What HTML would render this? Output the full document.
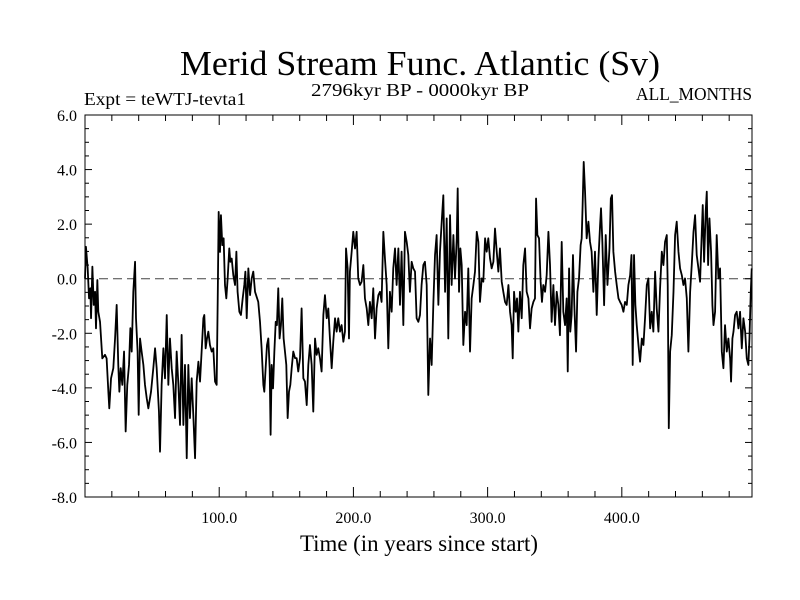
<!DOCTYPE html>
<html><head><meta charset="utf-8"><style>
html,body{margin:0;padding:0;background:#fff}
svg{display:block;font-family:"Liberation Serif",serif}
</style></head><body>
<svg id="chart" width="800" height="600" viewBox="0 0 800 600">
<rect width="800" height="600" fill="#fff"/>
<text x="180" y="75" font-size="35" textLength="480" lengthAdjust="spacingAndGlyphs">Merid Stream Func. Atlantic (Sv)</text>
<text x="311" y="96" font-size="18" textLength="218" lengthAdjust="spacingAndGlyphs">2796kyr BP - 0000kyr BP</text>
<text x="84" y="105" font-size="18" textLength="162" lengthAdjust="spacingAndGlyphs">Expt = teWTJ-tevta1</text>
<text x="636" y="100" font-size="18" textLength="116" lengthAdjust="spacingAndGlyphs">ALL_MONTHS</text>
<text x="300" y="551" font-size="23" textLength="238" lengthAdjust="spacingAndGlyphs">Time (in years since start)</text>
<g id="axes"></g>
<g id="plot"></g>
</svg>
<script>
const years = [0,0.7,2.0,3.0,4.0,4.5,5.5,6.5,7.5,8.2,9.2,9.9,11.2,12.9,14.9,16.1,17.4,18.1,19.4,21.1,22.4,23.6,24.8,25.6,26.6,27.8,29.1,30.3,31.5,32.8,33.8,34.8,36.0,37.3,38.0,39.2,40.0,41.0,42.2,43.5,44.7,46.0,47.2,49.2,50.9,52.2,53.4,55.1,55.9,57.1,58.4,59.6,60.9,62.1,63.3,64.6,65.8,67.1,68.3,69.6,70.8,72.0,73.3,74.5,75.8,77.0,78.2,79.5,80.7,82.0,83.2,84.5,85.7,86.9,88.2,88.9,89.9,90.9,91.9,93.1,94.4,95.6,96.9,98.1,98.9,99.6,100.6,101.3,102.3,103.3,104.3,105.3,106.3,107.5,108.3,109.3,110.5,111.8,112.8,113.7,115.0,116.2,117.5,118.7,119.5,120.5,121.7,123.0,124.2,125.4,126.7,129.1,130.4,131.6,132.9,133.6,134.6,135.6,136.6,137.6,138.3,139.1,140.1,141.1,142.1,143.0,144.0,145.0,146.0,147.0,148.0,149.0,150.0,151.0,152.0,153.0,154.0,155.2,156.5,157.7,158.9,160.2,161.4,162.7,163.9,165.2,166.4,167.6,168.9,170.1,171.4,172.6,173.8,175.1,176.3,177.6,178.8,180.1,181.3,182.5,183.8,185.0,186.3,187.5,188.7,190.0,191.2,192.5,193.7,194.5,195.7,196.7,197.4,198.7,199.9,201.2,202.4,203.6,204.9,206.1,207.4,208.6,209.9,211.1,212.3,213.6,214.8,216.1,217.3,218.6,219.8,221.0,222.3,223.5,224.8,226.0,227.2,228.5,229.7,231.0,232.2,233.5,234.7,235.9,237.2,238.4,239.7,240.9,242.1,243.4,244.6,245.9,247.1,248.4,249.6,250.8,252.1,253.3,254.6,255.8,257.1,258.3,259.6,260.8,262.0,263.3,264.5,265.8,267.0,268.3,269.5,270.7,272.0,273.2,274.5,275.7,277.0,277.7,278.7,279.7,280.7,281.9,283.2,284.4,285.6,286.9,288.1,289.4,290.6,291.9,293.1,294.3,295.6,296.8,298.1,299.3,300.5,301.8,303.0,304.3,305.5,306.8,308.0,309.2,310.5,311.7,313.0,314.2,315.5,316.7,317.9,318.7,319.7,320.9,321.9,322.9,324.1,325.4,326.6,327.9,329.1,330.4,331.6,332.8,334.1,335.3,336.1,337.1,338.3,339.5,340.5,341.5,342.8,344.0,345.3,346.5,347.7,349.0,350.2,351.5,352.7,353.9,355.2,356.4,357.7,358.9,359.7,360.7,361.6,362.6,363.6,364.6,365.9,366.9,368.1,369.3,370.1,370.8,371.6,372.6,373.8,375.1,376.3,377.5,378.8,380.0,381.3,382.6,383.8,384.5,385.5,386.8,388.0,389.3,390.8,391.8,392.7,393.7,395.0,396.2,397.5,398.7,399.9,401.2,402.4,403.7,404.9,406.2,407.2,408.1,409.1,410.1,411.1,412.4,413.6,414.9,416.1,417.3,418.6,419.8,421.1,422.3,423.5,424.8,426.0,427.3,428.5,429.8,431.0,432.2,433.5,434.2,435.0,436.0,437.2,438.5,439.7,440.9,442.2,443.4,444.7,445.9,447.1,448.4,449.6,450.9,452.1,453.4,454.6,455.8,457.1,458.3,459.6,460.3,461.3,462.5,463.3,464.3,465.3,466.5,467.5,468.3,469.5,470.7,472.0,473.2,474.5,475.7,476.9,478.2,479.4,480.7,481.4,482.4,483.2,484.4,485.6,486.9,488.1,489.4,490.6,491.9,493.1,494.3,495.1,496.1,496.8];
const values = [0.0,1.17,0.38,-0.72,-0.35,-1.45,0.44,-0.96,-0.48,-1.82,-0.05,-1.21,-1.58,-2.92,-2.79,-2.92,-4.14,-4.75,-3.65,-3.28,-2.19,-0.96,-3.16,-4.14,-3.28,-3.89,-2.67,-5.6,-3.89,-3.16,-1.81,-2.67,-0.48,0.62,-1.45,-2.67,-4.99,-2.19,-2.67,-3.16,-3.89,-4.38,-4.75,-4.14,-3.28,-2.55,-3.28,-4.87,-6.34,-3.89,-2.55,-3.65,-1.33,-3.89,-2.19,-3.28,-3.89,-5.11,-2.67,-3.89,-5.36,-2.06,-5.36,-3.16,-6.58,-3.16,-5.11,-3.65,-4.99,-6.58,-3.77,-3.04,-3.77,-2.67,-1.45,-1.33,-2.55,-2.19,-1.94,-2.43,-2.67,-2.55,-3.77,-3.89,-0.72,2.45,0.98,2.33,1.23,1.48,-0.23,-0.72,0.01,1.11,0.62,0.74,0.13,-0.23,0.99,-0.48,-1.21,-1.33,-0.72,-0.23,0.26,-1.45,0.38,-0.60,0.01,0.26,-0.48,-0.85,-1.58,-2.55,-3.89,-4.14,-3.28,-2.43,-2.19,-3.28,-5.72,-3.16,-4.02,-2.67,-1.58,-1.70,-0.35,-2.19,-1.70,-0.72,-2.19,-2.67,-3.16,-5.11,-4.14,-3.89,-3.28,-2.67,-2.91,-2.91,-3.40,-2.91,-1.09,-3.65,-3.77,-4.63,-3.16,-2.43,-3.16,-4.87,-2.19,-2.79,-2.55,-2.92,-3.40,-1.33,-0.60,-1.45,-1.09,-2.19,-3.28,-2.31,-1.45,-1.94,-1.45,-1.94,-1.70,-2.31,-1.94,1.11,0.38,-2.19,0.26,0.99,1.72,1.11,1.72,0.01,-0.23,-0.11,0.50,-0.72,-1.09,-1.70,-0.85,-1.45,-0.35,-2.19,-1.09,-0.60,-0.48,-0.85,1.72,0.74,-0.23,-2.55,-0.48,-1.21,0.38,1.11,-0.23,1.11,-0.96,0.99,-1.70,1.72,1.35,0.87,-0.48,0.62,0.38,0.26,-1.45,-1.58,-1.33,-0.23,0.50,0.62,-0.23,-4.26,-2.19,-3.16,-0.85,0.87,1.60,-0.96,0.99,2.09,3.06,-0.48,2.21,-2.19,2.33,-0.23,1.60,0.01,1.48,3.31,-0.48,1.11,0.50,-2.43,-1.21,-1.70,0.38,-2.67,-0.72,-0.23,0.26,1.72,1.35,-0.85,0.01,-0.11,1.48,0.99,1.48,0.74,0.38,0.62,1.84,0.99,0.26,1.11,-0.11,-0.48,-0.85,-0.96,-0.23,-1.21,-1.70,-2.92,-0.48,-1.21,-0.72,-1.94,-0.48,-1.45,0.50,1.11,-0.48,-0.72,-1.82,-1.09,-0.85,-0.72,2.94,1.60,1.48,-0.11,-0.85,-0.23,-0.48,0.13,1.72,0.50,-1.58,-0.23,-1.70,-0.48,-0.96,-2.07,1.35,-1.21,-1.70,-0.72,-3.40,0.38,-1.94,-1.33,0.87,-0.96,-2.67,-0.48,0.01,1.23,1.48,2.70,4.28,3.19,1.48,2.09,1.35,0.99,-0.48,0.99,-1.33,0.74,1.96,2.58,1.35,-0.97,1.60,-0.23,1.11,2.94,3.06,0.99,0.26,-0.23,-0.72,-0.85,-0.96,-1.21,-0.85,-0.96,-0.23,0.13,0.87,-3.16,0.87,-0.96,-1.70,-2.43,-3.04,-2.19,-2.43,-1.45,-0.23,0.01,-1.82,-1.21,-1.94,0.26,-1.09,-1.94,-0.35,0.99,0.50,1.35,1.60,-0.23,-5.48,-2.67,-2.07,-0.48,1.60,2.09,0.99,0.38,0.13,-0.23,0.01,-0.72,-2.67,-0.48,0.50,1.72,2.33,0.87,0.38,-0.11,1.72,2.70,0.62,2.46,3.19,0.50,2.21,0.99,-0.97,-1.70,-1.21,1.60,0.01,0.38,-2.67,-3.28,-1.70,-2.67,-2.19,-2.92,-3.77,-2.19,-1.94,-1.33,-1.21,-1.82,-1.21,-2.55,-1.45,-1.94,-2.92,-3.16,-2.19,-0.48,0.38];
const yTickLabels = ["6.0","4.0","2.0","0.0","-2.0","-4.0","-6.0","-8.0"];
const xTickLabels = ["100.0","200.0","300.0","400.0"];
const xDomain = [0, 497];
const yDomain = [-8, 6];

const L=85,R=752,T=115,B=497;
const NS="http://www.w3.org/2000/svg";
function xs(v){return L+(v-xDomain[0])/(xDomain[1]-xDomain[0])*(R-L);}
function ys(v){return B-(v-yDomain[0])/(yDomain[1]-yDomain[0])*(B-T);}
function mk(tag,attrs){const e=document.createElementNS(NS,tag);for(const k in attrs)e.setAttribute(k,attrs[k]);return e;}
const axes=document.getElementById('axes'), plot=document.getElementById('plot');

const zl=mk('line',{x1:L,x2:R,y1:ys(0),y2:ys(0),stroke:'#444','stroke-width':1,'stroke-dasharray':'9,5'});


axes.appendChild(zl);

const fr=mk('rect',{x:L,y:T,width:R-L,height:B-T,fill:'none',stroke:'#000','stroke-width':1});


axes.appendChild(fr);

for(let v=yDomain[0];v<=yDomain[1]+1e-9;v+=0.5){
  const y=ys(v), len=(Math.abs(v%2)<1e-9)?7:4;
  const t1=mk('line',{x1:L,x2:L+len,y1:y,y2:y,stroke:'#000'});
  
  
  axes.appendChild(t1);
  const t2=mk('line',{x1:R,x2:R-len,y1:y,y2:y,stroke:'#000'});
  
  
  axes.appendChild(t2);
}
yTickLabels.forEach(s=>{
  const t=mk('text',{x:L-8,y:ys(parseFloat(s))+6,'font-size':16,'text-anchor':'end'});
  t.textContent=s;
  
  
  axes.appendChild(t);
});
for(let v=20;v<xDomain[1];v+=20){
  const x=xs(v), len=(v%100===0)?10:6;
  const t1=mk('line',{x1:x,x2:x,y1:B,y2:B-len,stroke:'#000'});
  
  
  axes.appendChild(t1);
  const t2=mk('line',{x1:x,x2:x,y1:T,y2:T+len,stroke:'#000'});
  
  
  axes.appendChild(t2);
}
xTickLabels.forEach(s=>{
  const t=mk('text',{x:xs(parseFloat(s)),y:B+26,'font-size':16,'text-anchor':'middle'});
  t.textContent=s;
  
  
  axes.appendChild(t);
});

let d='';
years.forEach((yr,i)=>{d+=(i?'L':'M')+xs(yr).toFixed(2)+','+ys(values[i]).toFixed(2);});
const p=mk('path',{d:d,fill:'none',stroke:'#000','stroke-width':1.8,'stroke-linejoin':'round'});


plot.appendChild(p);
</script>
</body></html>
